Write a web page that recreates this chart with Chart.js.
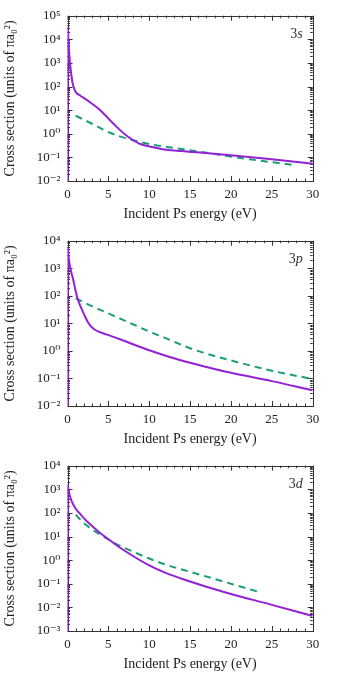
<!DOCTYPE html>
<html>
<head>
<meta charset="utf-8">
<script src="https://cdn.jsdelivr.net/npm/chart.js@4/dist/chart.umd.min.js"></script>
<style>
  body { margin: 0; background: #fff; }
  .panel { width: 338px; height: 225px; }
  canvas { display: block; }
</style>
</head>
<body>
<div class="panel"><canvas id="chart3s" width="338" height="225"></canvas></div>
<div class="panel"><canvas id="chart3p" width="338" height="225"></canvas></div>
<div class="panel"><canvas id="chart3d" width="338" height="225"></canvas></div>
<script>
// energies in eV, cross sections in units of pi a0^2
// (the point at E=0 sits far below the axis so the solid curve rises along the left edge)
const solid3sX = [0, 0.02, 0.1, 0.2, 0.3, 0.45, 0.6, 0.8, 1.0, 1.5, 2.5, 4, 5.6, 7.2, 8.9, 10.5, 12.1, 14, 16.2, 20.3, 24.4, 30];
const solid3sY = [1e-9, 32000, 10000, 3000, 1000, 350, 150, 85, 58, 43, 25, 10, 2.7, 0.85, 0.37, 0.27, 0.21, 0.185, 0.16, 0.12, 0.087, 0.054];
const dashed3sX = [1, 2.7, 5.2, 7.6, 10.1, 14.2, 18.2, 22.3, 27.6];
const dashed3sY = [5.8, 3.0, 1.1, 0.59, 0.36, 0.22, 0.135, 0.083, 0.048];

const solid3pX = [0, 0.02, 0.1, 0.2, 0.35, 0.5, 0.7, 0.9, 1.2, 1.5, 1.8, 2.1, 2.5, 2.9, 3.3, 3.8, 4.5, 5.2, 6.5, 8, 10, 12.5, 15, 17.5, 20, 25, 30];
const solid3pY = [1e-9, 5700, 3500, 1800, 1000, 650, 380, 200, 85, 48, 30, 19, 11, 7.6, 6.0, 5.0, 4.2, 3.6, 2.6, 1.75, 1.05, 0.6, 0.37, 0.24, 0.16, 0.08, 0.037];
const dashed3pX = [1, 2, 3, 4, 5, 6, 8, 10, 12, 15, 18, 20, 25, 30];
const dashed3pY = [81, 58, 42, 31, 23, 17, 9.3, 5.0, 2.9, 1.25, 0.65, 0.45, 0.19, 0.095];

const solid3dX = [0, 0.02, 0.1, 0.2, 0.35, 0.5, 0.75, 1, 1.5, 2, 2.5, 3, 4, 5, 6, 7, 8, 10, 12, 15, 17.5, 20, 25, 30];
const solid3dY = [1e-9, 1500, 1100, 700, 450, 320, 210, 150, 95, 60, 40, 28, 14, 7.7, 4.3, 2.5, 1.5, 0.6, 0.29, 0.125, 0.066, 0.037, 0.0128, 0.0043];
const dashed3dX = [1, 1.5, 2, 2.5, 3, 4, 5, 6, 8, 10, 12, 15, 18, 20, 23.5];
const dashed3dY = [85, 55, 37, 27, 20, 12, 7.5, 4.8, 2.3, 1.17, 0.65, 0.32, 0.16, 0.1, 0.044];

const xTitle = 'Incident Ps energy (eV)';
const yTitle = 'Cross section (units of πa₀²)';

const PURPLE = '#9420d6';
const GREEN = '#1b9e77';
const FONT = "'Liberation Serif', 'DejaVu Serif', serif";
const SUP = { '0': '⁰', '1': '¹', '2': '²', '3': '³', '4': '⁴', '5': '⁵', '6': '⁶', '7': '⁷', '8': '⁸', '9': '⁹', '-': '⁻' };

function powerLabel(v) {
    const e = String(Math.round(Math.log10(v)));
    return '10' + e.split('').map(c => SUP[c]).join('');
}

function points(xs, ys) {
    return xs.map((x, i) => ({ x: x, y: ys[i] }));
}

// frame with inward ticks on all four sides, plus the state label
const framePlugin = {
    id: 'frame',
    beforeDatasetsDraw(chart, args, opts) {
        const { ctx, chartArea: a, scales: { x, y } } = chart;
        ctx.save();
        ctx.strokeStyle = '#333';
        ctx.lineWidth = 1;
        ctx.beginPath();
        for (let v = 0; v <= 30; v++) {
            const px = Math.round(x.getPixelForValue(v)) + 0.5;
            const len = v % 5 === 0 ? 5 : 2.5;
            ctx.moveTo(px, a.bottom); ctx.lineTo(px, a.bottom - len);
            ctx.moveTo(px, a.top); ctx.lineTo(px, a.top + len);
        }
        const lo = Math.round(Math.log10(y.min));
        const hi = Math.round(Math.log10(y.max));
        for (let e = lo; e <= hi; e++) {
            for (let k = 1; k <= 9; k++) {
                const v = k * Math.pow(10, e);
                if (v > y.max * 1.0001) break;
                const py = Math.round(y.getPixelForValue(v)) + 0.5;
                const len = k === 1 ? 5 : 2.5;
                ctx.moveTo(a.left, py); ctx.lineTo(a.left + len, py);
                ctx.moveTo(a.right, py); ctx.lineTo(a.right - len, py);
            }
        }
        ctx.stroke();
        ctx.strokeRect(Math.round(a.left) + 0.5, Math.round(a.top) + 0.5,
            Math.round(a.right) - Math.round(a.left), Math.round(a.bottom) - Math.round(a.top));

        ctx.fillStyle = '#333';
        ctx.textBaseline = 'alphabetic';
        ctx.font = '14px ' + FONT;
        const w1 = ctx.measureText('3').width;
        ctx.font = 'italic 14px ' + FONT;
        const w2 = ctx.measureText(opts.orbital).width;
        const x0 = a.right - 10 - w1 - w2;
        const y0 = a.top + 22;
        ctx.font = '14px ' + FONT;
        ctx.fillText('3', x0, y0);
        ctx.font = 'italic 14px ' + FONT;
        ctx.fillText(opts.orbital, x0 + w1, y0);
        ctx.restore();
    }
};

function makePanel(id, solidX, solidY, dashedX, dashedY, yMin, yMax, orbital) {
    const decades = [];
    for (let e = Math.round(Math.log10(yMin)); e <= Math.round(Math.log10(yMax)); e++) {
        decades.push(Math.pow(10, e));
    }
    return new Chart(document.getElementById(id), {
        type: 'line',
        data: {
            datasets: [{
                data: points(solidX, solidY),
                borderColor: PURPLE,
                borderWidth: 2,
                pointRadius: 0,
                cubicInterpolationMode: 'monotone'
            }, {
                data: points(dashedX, dashedY),
                borderColor: GREEN,
                borderWidth: 2,
                borderDash: [7, 5],
                pointRadius: 0,
                cubicInterpolationMode: 'monotone'
            }]
        },
        options: {
            responsive: false,
            animation: false,
            devicePixelRatio: 1,
            layout: { padding: { top: 15.7, right: 25.3, bottom: 0, left: 0 } },
            plugins: {
                legend: { display: false },
                tooltip: { enabled: false },
                frame: { orbital: orbital }
            },
            scales: {
                x: {
                    type: 'linear',
                    min: 0,
                    max: 30,
                    grid: { display: false, drawTicks: false },
                    border: { display: false },
                    ticks: { stepSize: 5, padding: 6, color: '#222', maxRotation: 0, font: { family: FONT, size: 13 } },
                    title: { display: true, text: xTitle, color: '#222', font: { family: FONT, size: 14 }, padding: { top: 0, bottom: 2 } },
                    afterFit: s => { s.height = 44; }
                },
                y: {
                    type: 'logarithmic',
                    min: yMin,
                    max: yMax,
                    grid: { display: false, drawTicks: false },
                    border: { display: false },
                    afterBuildTicks: s => { s.ticks = decades.map(v => ({ value: v })); },
                    ticks: { padding: 7, color: '#222', autoSkip: false, font: { family: FONT, size: 13 }, callback: v => powerLabel(v) },
                    title: { display: true, text: yTitle, color: '#222', font: { family: FONT, size: 14 }, padding: { top: 2, bottom: 0 } },
                    afterFit: s => { s.width = 67.5; }
                }
            }
        },
        plugins: [framePlugin]
    });
}

makePanel('chart3s', solid3sX, solid3sY, dashed3sX, dashed3sY, 1e-2, 1e5, 's');
makePanel('chart3p', solid3pX, solid3pY, dashed3pX, dashed3pY, 1e-2, 1e4, 'p');
makePanel('chart3d', solid3dX, solid3dY, dashed3dX, dashed3dY, 1e-3, 1e4, 'd');
</script>
</body>
</html>
